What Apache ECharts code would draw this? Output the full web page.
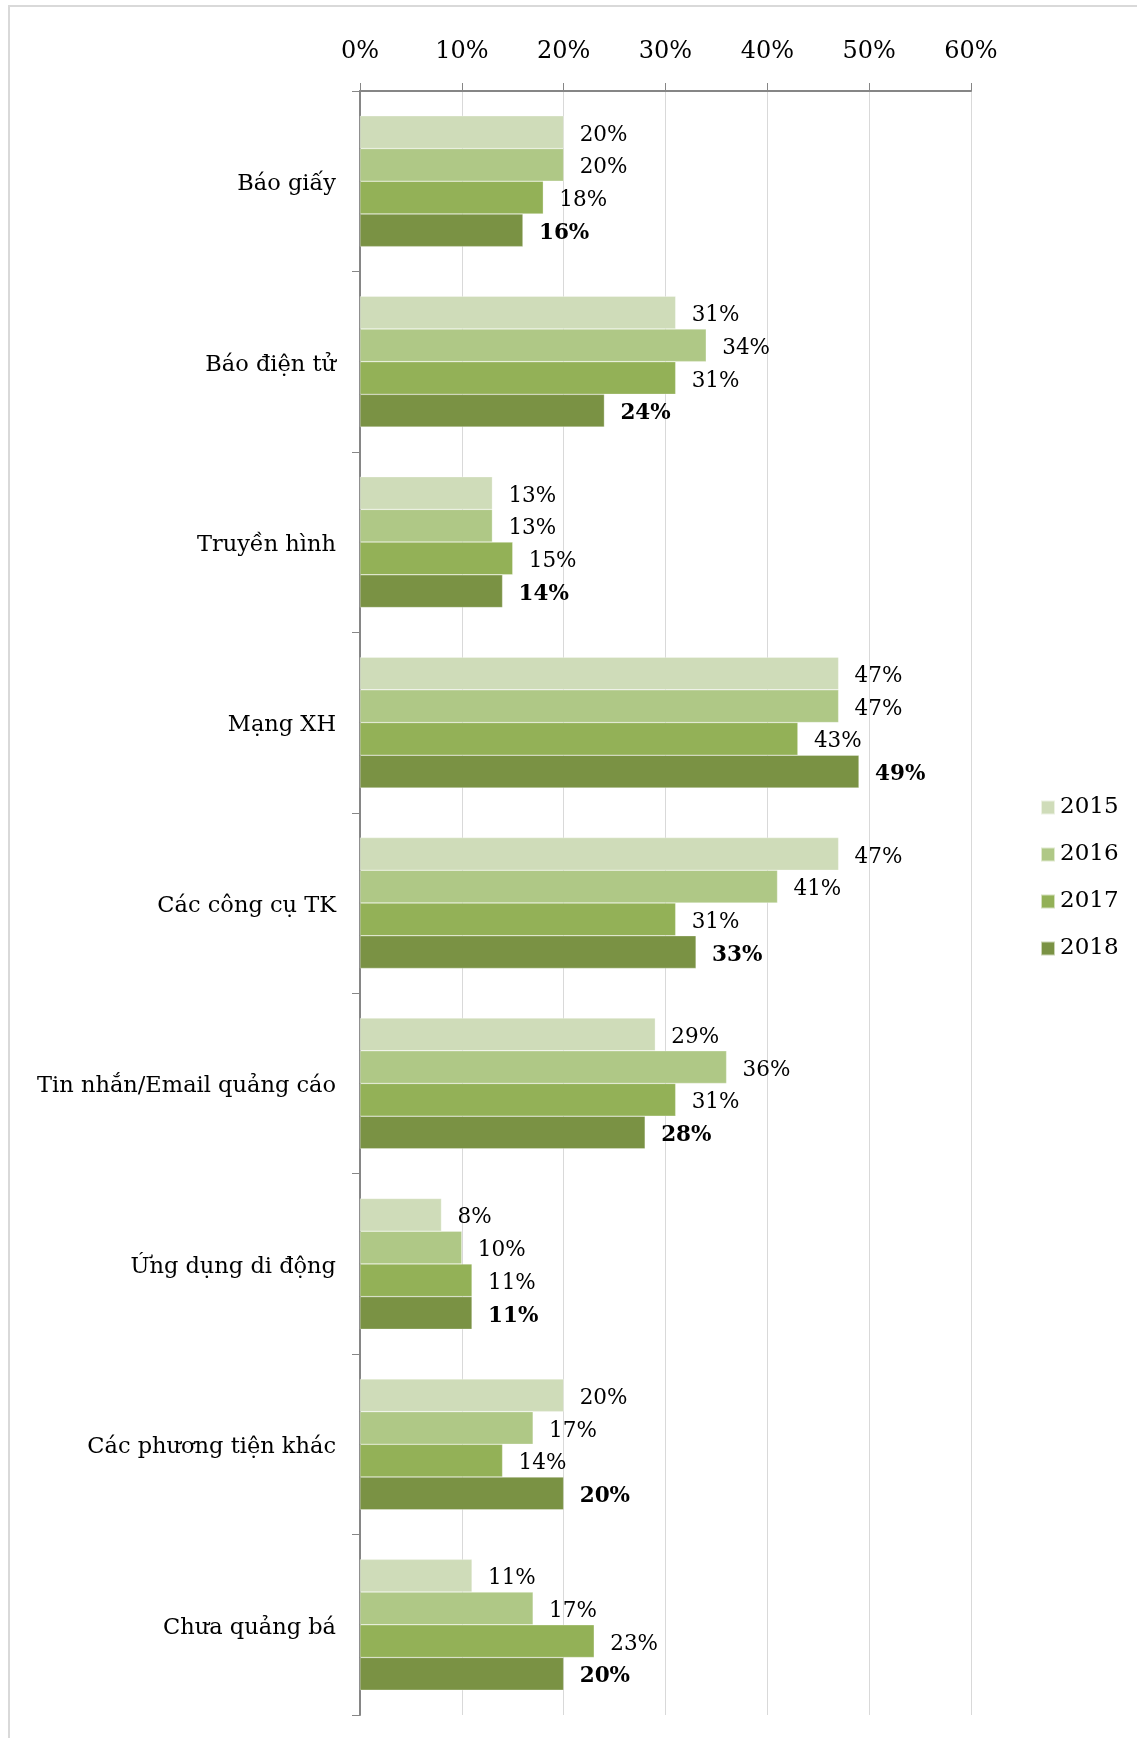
<!DOCTYPE html>
<html>
<head>
<meta charset="utf-8">
<style>
  html, body { margin: 0; padding: 0; background: #fff; }
  #frame { position: absolute; left: 8px; top: 5px; width: 1200px; height: 1800px; border: 2px solid #d9d9d9; box-sizing: border-box; }
  #chart { position: absolute; left: 0; top: 0; width: 1137px; height: 1738px; }
</style>
<script src="https://cdn.jsdelivr.net/npm/echarts@6/dist/echarts.min.js"></script>
</head>
<body>
<div id="frame"></div>
<div id="chart"></div>
<script>
// Kênh quảng bá theo năm (tỷ lệ %)
const categories = [
  'Báo giấy', 'Báo điện tử', 'Truyền hình', 'Mạng XH', 'Các công cụ TK',
  'Tin nhắn/Email quảng cáo', 'Ứng dụng di động', 'Các phương tiện khác', 'Chưa quảng bá'
];
const years = ['2015', '2016', '2017', '2018'];
const v2015 = [20, 31, 13, 47, 47, 29, 8, 20, 11];
const v2016 = [20, 34, 13, 47, 41, 36, 10, 17, 17];
const v2017 = [18, 31, 15, 43, 31, 31, 11, 14, 23];
const v2018 = [16, 24, 14, 49, 33, 28, 11, 20, 20];
const tickValues = [0, 10, 20, 30, 40, 50, 60];

const seriesValues = [v2015, v2016, v2017, v2018];
const colors = ['#cfdcb9', '#afc886', '#93b157', '#7a9244'];
const FONT = 'DejaVu Serif';

const chart = echarts.init(document.getElementById('chart'), null, { renderer: 'canvas' });

chart.setOption({
  backgroundColor: 'transparent',
  animation: false,
  textStyle: { fontFamily: FONT },
  color: colors,
  legend: {
    orient: 'vertical',
    left: 1035,
    top: 791,
    itemWidth: 14,
    itemHeight: 14,
    itemGap: 24,
    icon: 'rect',
    data: years,
    textStyle: { fontFamily: FONT, fontSize: 23, color: '#000' }
  },
  grid: { left: 360, top: 91, width: 611, bottom: 23, containLabel: false },
  xAxis: {
    type: 'value',
    position: 'top',
    min: tickValues[0],
    max: tickValues[tickValues.length - 1],
    interval: 10,
    axisLine: { show: true, lineStyle: { color: '#868686', width: 2 } },
    axisTick: { show: true, length: 8, inside: false, lineStyle: { color: '#868686', width: 1 } },
    axisLabel: {
      margin: 27,
      fontFamily: FONT, fontSize: 24, color: '#000',
      formatter: v => v + '%'
    },
    splitLine: { show: true, lineStyle: { color: '#d9d9d9', width: 1 } }
  },
  yAxis: {
    type: 'category',
    inverse: true,
    data: categories,
    axisLine: { show: true, lineStyle: { color: '#868686', width: 2 } },
    axisTick: { show: true, length: 8, lineStyle: { color: '#868686', width: 1 } },
    axisLabel: {
      margin: 24, fontFamily: FONT, fontSize: 22.5, color: '#000',
      verticalAlign: 'top', lineHeight: 6
    }
  },
  series: seriesValues.map((vals, i) => ({
    name: years[i],
    type: 'bar',
    data: vals,
    barGap: '0%',
    barCategoryGap: '27.5%',
    itemStyle: { color: colors[i], borderColor: 'rgba(255,255,255,0.6)', borderWidth: 0.5 },
    label: {
      show: true,
      position: 'right',
      distance: 16,
      offset: [0, 3],
      fontFamily: FONT,
      fontSize: 21.5,
      color: '#000',
      fontWeight: i === 3 ? 'bold' : 'normal',
      formatter: p => p.value + '%'
    }
  }))
});
</script>
</body>
</html>
